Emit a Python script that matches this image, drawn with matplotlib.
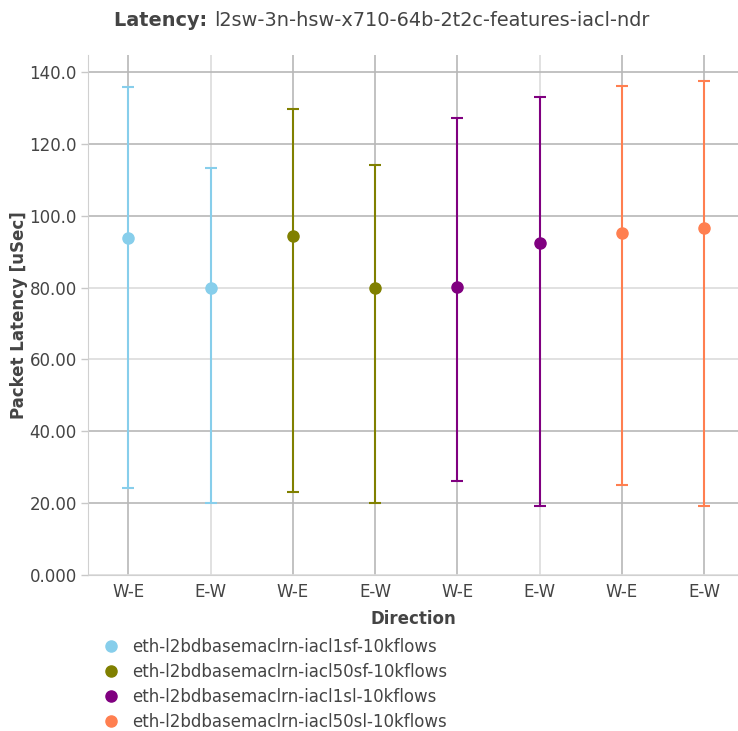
import numpy as np
import matplotlib.pyplot as plt
from matplotlib.lines import Line2D

plt.rcParams["font.family"] = ["DejaVu Sans"]

# --- data ---
directions = ["W-E", "E-W", "W-E", "E-W", "W-E", "E-W", "W-E", "E-W"]
series_names = [
    "eth-l2bdbasemaclrn-iacl1sf-10kflows",
    "eth-l2bdbasemaclrn-iacl50sf-10kflows",
    "eth-l2bdbasemaclrn-iacl1sl-10kflows",
    "eth-l2bdbasemaclrn-iacl50sl-10kflows",
]
series_colors = ["#87ceeb", "#808000", "#800080", "#ff7f50"]
avg_latency = [93.8, 79.9, 94.3, 79.9, 80.2, 92.4, 95.2, 96.6]
max_latency = [135.8, 113.3, 129.7, 114.1, 127.2, 133.0, 136.1, 137.5]
min_latency = [24.2, 20.0, 23.1, 20.0, 26.2, 19.2, 25.0, 19.2]
yticks = [0, 20, 40, 60, 80, 100, 120, 140]
ytick_labels = ["0.000", "20.00", "40.00", "60.00", "80.00", "100.0", "120.0", "140.0"]

TXT = "#444444"
FS = 12
TITLE_FS = 13.9

fig = plt.figure(figsize=(7.38, 7.31), dpi=100)
ax = fig.add_axes([88 / 738, 156 / 731, 650 / 738, 520 / 731])

x = np.arange(len(directions))
avg = np.array(avg_latency)
lo = avg - np.array(min_latency)
hi = np.array(max_latency) - avg

for k, (name, color) in enumerate(zip(series_names, series_colors)):
    idx = slice(2 * k, 2 * k + 2)
    ax.errorbar(x[idx], avg[idx], yerr=[lo[idx], hi[idx]], fmt="o", color=color,
                ms=8, elinewidth=1.5, capsize=4.5, capthick=1.5, zorder=3, label=name)

ax.set_xlim(-0.49, 7.41)
ax.set_ylim(0, 144.7)
ax.set_xticks(x)
ax.set_xticklabels(directions)
ax.set_yticks(yticks)
ax.set_yticklabels(ytick_labels)
ax.tick_params(axis="x", length=0, pad=6, labelsize=FS, colors=TXT)
ax.tick_params(axis="y", length=5, width=1, color="#c8c8c8", pad=3, labelsize=FS, labelcolor=TXT)

ax.grid(True, color="#dcdcdc", linewidth=1.2, zorder=0)
ax.set_axisbelow(True)
# some grid lines are drawn darker in the reference
dark_y = [20, 40, 100, 120, 140]
for val, gl in zip(yticks, ax.get_ygridlines()):
    if val in dark_y:
        gl.set_color("#b8b8b8")
dark_x = [0, 2, 3, 4, 6, 7]
for i, gl in enumerate(ax.get_xgridlines()):
    if i in dark_x:
        gl.set_color("#b8b8b8")

for side in ["top", "right"]:
    ax.spines[side].set_visible(False)
ax.spines["left"].set_color("#d0d0d0")
ax.spines["bottom"].set_color("#d0d0d0")

ax.set_xlabel("Direction", fontsize=FS, fontweight="bold", color=TXT, labelpad=6)
ax.set_ylabel("Packet Latency [uSec]", fontsize=FS, fontweight="bold", color=TXT, labelpad=1)

# title: bold prefix + regular rest
t1 = fig.text(114 / 738, 1 - 21 / 731, "Latency: ", fontsize=TITLE_FS, fontweight="bold",
              color=TXT, va="center", ha="left")
ax.annotate("l2sw-3n-hsw-x710-64b-2t2c-features-iacl-ndr", xy=(1, 0.5), xycoords=t1,
            va="center", ha="left", fontsize=TITLE_FS, color=TXT)

handles = [Line2D([], [], marker="o", ls="none", ms=8, color=c) for c in series_colors]
fig.legend(handles, series_names, loc="upper left", bbox_to_anchor=(96 / 738, 1 - 631 / 731),
           frameon=False, fontsize=FS, labelcolor=TXT, handlelength=1.0,
           handletextpad=0.75, labelspacing=0.43, borderaxespad=0)

fig.savefig("out.png", dpi=100)
